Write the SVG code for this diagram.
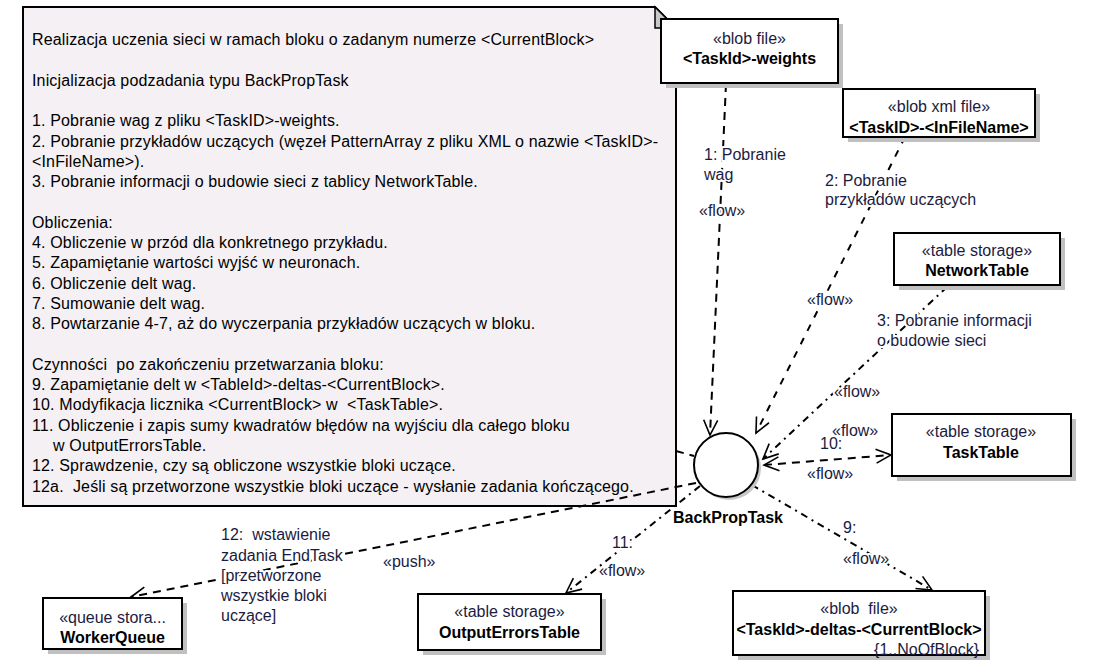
<svg xmlns="http://www.w3.org/2000/svg" width="1097" height="668" viewBox="0 0 1097 668">
<style>
text{font-family:"Liberation Sans",Arial,sans-serif;font-size:16px;white-space:pre}
.note{fill:#f4f0f4;stroke:#000;stroke-width:2}
.nt{fill:#000;letter-spacing:0.15px}
.box{fill:#fff;stroke:#000;stroke-width:2}
.sh{fill:#c0c0c0}
.st{fill:#1b1b40;text-anchor:middle}
.nm{fill:#000;font-weight:bold;text-anchor:middle}
.lbl{fill:#1b1b40;stroke:#fff;stroke-width:4;paint-order:stroke;stroke-linejoin:round}
.c{fill:none;stroke:#000;stroke-width:2}
.dash{stroke-dasharray:8 6}
.sparse{stroke-dasharray:7 8}
.dd{stroke-dasharray:7 5 2 5}
</style>
<defs>
<marker id="arr" markerUnits="userSpaceOnUse" markerWidth="20" markerHeight="18" refX="17" refY="9" orient="auto-start-reverse" viewBox="0 0 20 18">
<path d="M2,2 L17,9 L2,16" fill="none" stroke="#000" stroke-width="1.6"/>
</marker>
</defs>

<g id="note">
<path class="note" d="M23,7 H655 L676,28 V506 H23 Z"/>
<path d="M655,7 V28 H676 Z" fill="#c8c8c8" stroke="#000" stroke-width="1.5"/>
<text class="nt" x="32" y="45">Realizacja uczenia sieci w ramach bloku o zadanym numerze &lt;CurrentBlock&gt;</text>
<text class="nt" x="32" y="85.6">Inicjalizacja podzadania typu BackPropTask</text>
<text class="nt" x="32" y="126.2">1. Pobranie wag z pliku &lt;TaskID&gt;-weights.</text>
<text class="nt" x="32" y="146.5">2. Pobranie przykładów uczących (węzeł PatternArray z pliku XML o nazwie &lt;TaskID&gt;-</text>
<text class="nt" x="32" y="166.8">&lt;InFileName&gt;).</text>
<text class="nt" x="32" y="187.1">3. Pobranie informacji o budowie sieci z tablicy NetworkTable.</text>
<text class="nt" x="32" y="227.7">Obliczenia:</text>
<text class="nt" x="32" y="248">4. Obliczenie w przód dla konkretnego przykładu.</text>
<text class="nt" x="32" y="268.3">5. Zapamiętanie wartości wyjść w neuronach.</text>
<text class="nt" x="32" y="288.6">6. Obliczenie delt wag.</text>
<text class="nt" x="32" y="308.9">7. Sumowanie delt wag.</text>
<text class="nt" x="32" y="329.2">8. Powtarzanie 4-7, aż do wyczerpania przykładów uczących w bloku.</text>
<text class="nt" x="32" y="369.8">Czynności  po zakończeniu przetwarzania bloku:</text>
<text class="nt" x="32" y="390.1">9. Zapamiętanie delt w &lt;TableId&gt;-deltas-&lt;CurrentBlock&gt;.</text>
<text class="nt" x="32" y="410.4">10. Modyfikacja licznika &lt;CurrentBlock&gt; w  &lt;TaskTable&gt;.</text>
<text class="nt" x="32" y="430.7">11. Obliczenie i zapis sumy kwadratów błędów na wyjściu dla całego bloku</text>
<text class="nt" x="53" y="451">w OutputErrorsTable.</text>
<text class="nt" x="32" y="471.3">12. Sprawdzenie, czy są obliczone wszystkie bloki uczące.</text>
<text class="nt" x="32" y="491.6">12a.  Jeśli są przetworzone wszystkie bloki uczące - wysłanie zadania kończącego.</text>
</g>

<g id="connectors">
<path class="c dash" d="M676,451 L694,456"/>
<path class="c dash" d="M726,84 L710,435" marker-end="url(#arr)"/>
<path class="c sparse" d="M905,137 L756,433" marker-end="url(#arr)"/>
<path class="c dd" d="M947,287 L763,459" marker-end="url(#arr)"/>
<path class="c dash" d="M764,465 L891,455" marker-start="url(#arr)" marker-end="url(#arr)"/>
<path class="c dd" d="M752,485 L932,590" marker-end="url(#arr)"/>
<path class="c dd" d="M700,486 L566,593" marker-end="url(#arr)"/>
<path class="c dash" d="M696,483 L131,597" marker-end="url(#arr)"/>
</g>

<g id="labels">
<text class="lbl" x="704" y="160">1: Pobranie</text>
<text class="lbl" x="704" y="180">wag</text>
<text class="lbl" x="699" y="216">«flow»</text>
<text class="lbl" x="825" y="186">2: Pobranie</text>
<text class="lbl" x="825" y="205">przykładów uczących</text>
<text class="lbl" x="807" y="305">«flow»</text>
<text class="lbl" x="877" y="326">3: Pobranie informacji</text>
<text class="lbl" x="877" y="346">o budowie sieci</text>
<text class="lbl" x="834" y="397">«flow»</text>
<text class="lbl" x="832" y="436">«flow»</text>
<text class="lbl" x="820" y="449">10:</text>
<text class="lbl" x="807" y="479">«flow»</text>
<text class="lbl" x="843" y="533">9:</text>
<text class="lbl" x="843" y="564">«flow»</text>
<text class="lbl" x="612" y="548">11:</text>
<text class="lbl" x="599" y="576">«flow»</text>
<text class="lbl" x="383" y="567">«push»</text>
<text class="lbl" x="221" y="540">12:  wstawienie</text>
<text class="lbl" x="221" y="561">zadania EndTask</text>
<text class="lbl" x="221" y="581">[przetworzone</text>
<text class="lbl" x="221" y="601">wszystkie bloki</text>
<text class="lbl" x="221" y="621">uczące]</text>
</g>

<g id="BackPropTask">
<circle cx="729" cy="468" r="32" fill="#c8c8c8"/>
<circle cx="726" cy="465" r="32" fill="#fff" stroke="#000" stroke-width="2"/>
<text class="nm" x="728" y="523">BackPropTask</text>
</g>

<g id="weights">
<rect class="sh" x="666" y="24" width="177" height="64"/>
<rect class="box" x="661" y="19" width="177" height="64"/>
<text class="st" x="749.5" y="44">«blob file»</text>
<text class="nm" x="749.5" y="64">&lt;TaskId&gt;-weights</text>
</g>

<g id="infile">
<rect class="sh" x="848" y="94" width="192" height="48"/>
<rect class="box" x="843" y="89" width="192" height="48"/>
<text class="st" x="939" y="112">«blob xml file»</text>
<text class="nm" x="939" y="133">&lt;TaskID&gt;-&lt;InFileName&gt;</text>
</g>

<g id="NetworkTable">
<rect class="sh" x="899" y="238" width="166" height="52"/>
<rect class="box" x="894" y="233" width="166" height="52"/>
<text class="st" x="977" y="256">«table storage»</text>
<text class="nm" x="977" y="276">NetworkTable</text>
</g>

<g id="TaskTable">
<rect class="sh" x="897" y="419" width="179" height="62"/>
<rect class="box" x="892" y="414" width="179" height="62"/>
<text class="st" x="981" y="437">«table storage»</text>
<text class="nm" x="981" y="458">TaskTable</text>
</g>

<g id="WorkerQueue">
<rect class="sh" x="48" y="603" width="139" height="51"/>
<rect class="box" x="43" y="598" width="139" height="51"/>
<text class="st" x="112.5" y="623">«queue stora...</text>
<text class="nm" x="112.5" y="643">WorkerQueue</text>
</g>

<g id="OutputErrorsTable">
<rect class="sh" x="423" y="599" width="183" height="56"/>
<rect class="box" x="418" y="594" width="183" height="56"/>
<text class="st" x="509.5" y="617">«table storage»</text>
<text class="nm" x="509.5" y="638">OutputErrorsTable</text>
</g>

<g id="deltas">
<rect class="sh" x="738" y="596" width="252" height="64"/>
<rect class="box" x="733" y="591" width="252" height="64"/>
<text class="st" x="859" y="614">«blob  file»</text>
<text class="nm" x="859" y="635">&lt;TaskId&gt;-deltas-&lt;CurrentBlock&gt;</text>
<text x="979" y="655" fill="#1b1b40" text-anchor="end">{1..NoOfBlock}</text>
</g>
</svg>
